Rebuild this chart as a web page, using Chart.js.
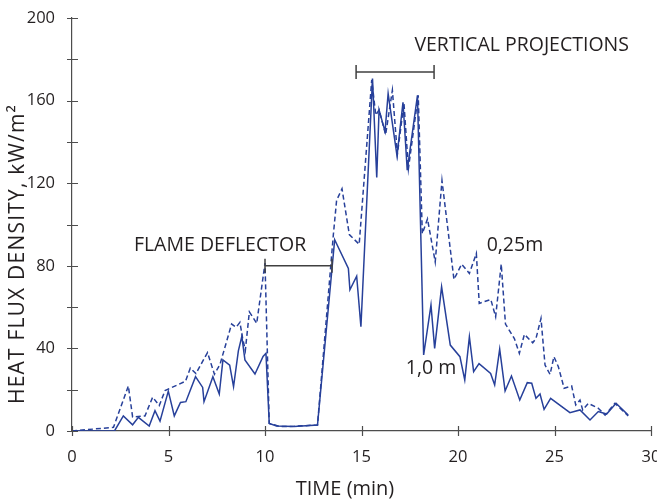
<!DOCTYPE html>
<html>
<head>
<meta charset="utf-8">
<script src="https://cdn.jsdelivr.net/npm/chart.js@4/dist/chart.umd.min.js"></script>
<style>
  html, body { margin: 0; padding: 0; background: #ffffff; }
  #wrap { width: 657px; height: 500px; position: relative; }
</style>
</head>
<body>
<div id="wrap"><canvas id="c" width="657" height="500"></canvas></div>
<script>
// ---- data ----
const timeSolid = [0, 2.2, 2.66, 3.14, 3.44, 4.0, 4.3, 4.56, 4.99, 5.3, 5.62, 5.9, 6.4, 6.77, 6.84, 7.3, 7.63, 7.82, 8.17, 8.37, 8.62, 8.8, 8.96, 9.48, 9.9, 10.05, 10.22, 10.6, 11.5, 12.72, 13.61, 14.32, 14.4, 14.75, 14.97, 15.57, 15.79, 15.91, 16.22, 16.38, 16.84, 17.15, 17.37, 17.9, 18.22, 18.6, 18.79, 19.15, 19.6, 20.1, 20.35, 20.59, 20.81, 21.09, 21.69, 21.9, 22.16, 22.44, 22.77, 23.2, 23.59, 23.82, 24.04, 24.25, 24.46, 24.8, 25.8, 26.32, 26.84, 27.27, 27.7, 28.19, 28.82];
const valueSolid = [0, 0, 7.3, 3, 6.6, 2.4, 9.8, 4.8, 19.3, 7.3, 13.8, 14.2, 26.3, 21.1, 14.2, 26.3, 17.9, 34.4, 31.9, 21.5, 38.8, 45.8, 34.4, 27.6, 36.1, 37.6, 3.7, 2.4, 2.2, 2.9, 92.6, 78.7, 68.4, 75, 50.5, 170.7, 122.8, 155.5, 145, 163.4, 133.3, 159.2, 126.3, 162.6, 36.8, 61, 40, 69.8, 41.6, 36, 24.7, 45.6, 28.7, 32.6, 27.9, 22.3, 39.6, 19.4, 26.6, 15, 23.4, 23.1, 15.8, 17.9, 10.5, 15.8, 8.9, 10.2, 5.3, 9.4, 8.2, 13.4, 7.7];

const timeDashed = [0, 2.15, 2.92, 3.14, 3.78, 4.18, 4.52, 4.82, 5.88, 6.13, 6.42, 7.02, 7.38, 7.67, 8.27, 8.5, 8.7, 8.84, 8.98, 9.19, 9.57, 10.0, 10.22, 10.78, 11.5, 12.72, 13.54, 13.71, 13.99, 14.37, 14.88, 15.53, 15.74, 15.91, 16.25, 16.6, 16.86, 17.2, 17.43, 17.94, 18.15, 18.42, 18.82, 19.17, 19.79, 20.19, 20.59, 20.95, 21.1, 21.7, 21.95, 22.24, 22.46, 22.92, 23.18, 23.44, 23.87, 24.04, 24.3, 24.51, 24.77, 24.97, 25.2, 25.5, 25.89, 26.1, 26.32, 26.46, 26.75, 27.27, 27.62, 28.13, 28.82];
const valueDashed = [0, 1.8, 21.8, 6.8, 7.3, 16.4, 12.3, 19.6, 24.1, 30.5, 27.8, 38, 27.5, 32.3, 51.8, 50.2, 52.6, 45, 39, 57.7, 52.1, 81.3, 3.7, 2.1, 2.3, 2.9, 94.9, 111.7, 117.3, 95.1, 90.4, 170, 153, 155.5, 143.5, 165, 134, 158.8, 127, 162.6, 95.6, 102.7, 81.9, 121.3, 73.4, 80.8, 76.3, 86, 61.8, 63.7, 55.3, 80.8, 51.8, 44.8, 37.6, 46.8, 42.7, 44.8, 54.5, 31.9, 27.4, 36, 31.1, 20.7, 21.8, 12.6, 15, 10.2, 13.4, 11, 7.7, 13.4, 7.3];

const xTitle = 'TIME (min)';
const yTitle = 'HEAT FLUX DENSITY, kW/m\u00B2';

// annotation texts (anchored in data units)
const noteTexts = ['FLAME DEFLECTOR', 'VERTICAL PROJECTIONS', '0,25m', '1,0 m'];
const noteX = [7.67, 23.3, 22.95, 18.6];
const noteY = [90, 186.8, 90, 30.5];
// brackets
const bracketFrom = [10.0, 14.72];
const bracketTo = [13.47, 18.76];
const bracketY = [80, 173.8];

const LINE = '#27409a';
const AXIS = '#4d4d4d';
const TEXT = '#231f20';
const FONT = '"Open Sans", "Noto Sans", sans-serif';

const toPts = (xs, ys) => xs.map((x, i) => ({ x: x, y: ys[i] }));

const annotate = {
  id: 'annotate',
  afterDraw(chart) {
    const ctx = chart.ctx;
    const xs = chart.scales.x, ys = chart.scales.y;
    const ca = chart.chartArea;
    ctx.save();
    // axis ticks crossing the axes
    ctx.strokeStyle = AXIS;
    ctx.lineWidth = 1.2;
    ctx.beginPath();
    for (let v = 0; v <= 200; v += 20) {
      const py = Math.round(ys.getPixelForValue(v)) + 0.5;
      ctx.moveTo(ca.left - 5, py); ctx.lineTo(ca.left + 6, py);
    }
    for (let v = 0; v <= 30; v += 5) {
      const px = Math.round(xs.getPixelForValue(v)) + 0.5;
      ctx.moveTo(px, ca.bottom - 5); ctx.lineTo(px, ca.bottom + 5);
    }
    ctx.stroke();
    // brackets
    ctx.strokeStyle = '#404040';
    ctx.lineWidth = 1.5;
    for (let i = 0; i < bracketFrom.length; i++) {
      const x1 = xs.getPixelForValue(bracketFrom[i]);
      const x2 = xs.getPixelForValue(bracketTo[i]);
      const y = ys.getPixelForValue(bracketY[i]);
      ctx.beginPath();
      ctx.moveTo(x1, y); ctx.lineTo(x2, y);
      ctx.moveTo(x1, y - 7); ctx.lineTo(x1, y + 7);
      ctx.moveTo(x2, y - 7); ctx.lineTo(x2, y + 7);
      ctx.stroke();
    }
    // notes
    ctx.fillStyle = TEXT;
    ctx.font = '19.5px ' + FONT;
    ctx.textAlign = 'center';
    ctx.textBaseline = 'middle';
    for (let i = 0; i < noteTexts.length; i++) {
      ctx.fillText(noteTexts[i], xs.getPixelForValue(noteX[i]), ys.getPixelForValue(noteY[i]));
    }
    // axis titles
    ctx.font = '20px ' + FONT;
    ctx.fillText(xTitle, ca.left + 273, ca.bottom + 58);
    ctx.translate(18, ca.top + 236);
    ctx.rotate(-Math.PI / 2);
    ctx.font = '21px ' + FONT;
    if ('letterSpacing' in ctx) ctx.letterSpacing = '1.2px';
    ctx.fillText(yTitle, 0, 0);
    ctx.restore();
  }
};

new Chart(document.getElementById('c'), {
  type: 'line',
  data: {
    datasets: [
      {
        label: '1,0 m',
        data: toPts(timeSolid, valueSolid),
        borderColor: LINE,
        borderWidth: 1.5,
        pointRadius: 0,
        tension: 0,
        fill: false
      },
      {
        label: '0,25m',
        data: toPts(timeDashed, valueDashed),
        borderColor: LINE,
        borderWidth: 1.5,
        borderDash: [5, 3],
        pointRadius: 0,
        tension: 0,
        fill: false
      }
    ]
  },
  options: {
    responsive: false,
    animation: false,
    devicePixelRatio: 1,
    layout: { padding: { top: 18, right: 6, left: 0, bottom: 0 } },
    plugins: { legend: { display: false }, tooltip: { enabled: false } },
    scales: {
      x: {
        type: 'linear',
        min: 0, max: 30,
        grid: { display: false },
        border: { display: true, color: AXIS, width: 1.2 },
        ticks: { stepSize: 5, padding: 8, color: TEXT, font: { family: FONT, size: 16.5 }, maxRotation: 0 },
        afterFit(s) { s.height = 69; s.paddingLeft = 0; s.paddingRight = 0; }
      },
      y: {
        min: 0, max: 200,
        grid: { display: false },
        border: { display: true, color: AXIS, width: 1.2 },
        ticks: {
          stepSize: 20, padding: 9, color: TEXT, font: { family: FONT, size: 16.5 },
          callback: (v) => (v % 40 === 0 ? String(v) : '')
        },
        afterFit(s) { s.width = 72; s.paddingTop = 0; s.paddingBottom = 0; }
      }
    }
  },
  plugins: [annotate]
});
</script>
</body>
</html>
